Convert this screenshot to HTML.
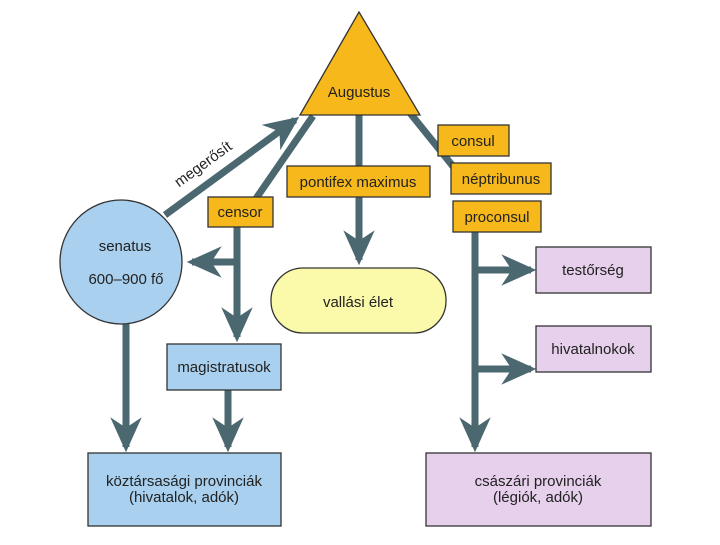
<!DOCTYPE html>
<html><head><meta charset="utf-8"><style>
html,body{margin:0;padding:0;background:#fff;}
svg text{font-family:"Liberation Sans",sans-serif;font-size:15px;fill:#222;}
</style></head><body>
<svg width="720" height="540" viewBox="0 0 720 540" xmlns="http://www.w3.org/2000/svg">
<defs>
<marker id="a" viewBox="0 0 10 10" refX="8.5" refY="5" markerWidth="5" markerHeight="5" orient="auto" markerUnits="strokeWidth">
<path d="M0,0.5 L10,5 L0,9.5 L3,5 z" fill="#4b6870"/>
</marker>
</defs>
<g stroke="#4b6870" stroke-width="7" fill="none">
<line x1="165" y1="215" x2="295" y2="120" marker-end="url(#a)"/>
<line x1="313" y1="116" x2="255" y2="200"/>
<line x1="359" y1="112" x2="359" y2="260" marker-end="url(#a)"/>
<line x1="410" y1="113" x2="460" y2="175"/>
<line x1="475" y1="230" x2="475" y2="447" marker-end="url(#a)"/>
<line x1="475" y1="270" x2="531" y2="270" marker-end="url(#a)"/>
<line x1="475" y1="369" x2="531" y2="369" marker-end="url(#a)"/>
<line x1="237" y1="225" x2="237" y2="337" marker-end="url(#a)"/>
<line x1="240" y1="262" x2="192" y2="262" marker-end="url(#a)"/>
<line x1="126" y1="320" x2="126" y2="447" marker-end="url(#a)"/>
<line x1="228" y1="390" x2="228" y2="447" marker-end="url(#a)"/>
</g>
<g stroke="#333" stroke-width="1.3">
<polygon points="359,12 300,115 420,115" fill="#f6b81b"/>
<rect x="438" y="125" width="71" height="31" fill="#f6b81b"/>
<rect x="451" y="163" width="100" height="31" fill="#f6b81b"/>
<rect x="453" y="201" width="88" height="31" fill="#f6b81b"/>
<rect x="287" y="166" width="143" height="31" fill="#f6b81b"/>
<rect x="208" y="197" width="65" height="30" fill="#f6b81b"/>
<ellipse cx="121" cy="262" rx="61" ry="62" fill="#a9d0ee"/>
<rect x="167" y="344" width="114" height="46" fill="#a9d0ee"/>
<rect x="88" y="453" width="193" height="73" fill="#a9d0ee"/>
<rect x="271" y="268" width="175" height="65" rx="32" fill="#fafaaa"/>
<rect x="536" y="247" width="115" height="46" fill="#e6d0ec"/>
<rect x="536" y="326" width="115" height="46" fill="#e6d0ec"/>
<rect x="426" y="453" width="225" height="73" fill="#e6d0ec"/>
</g>
<g text-anchor="middle">
<text x="359" y="97">Augustus</text>
<text x="473" y="146">consul</text>
<text x="501" y="184">néptribunus</text>
<text x="497" y="222">proconsul</text>
<text x="358" y="187">pontifex maximus</text>
<text x="240" y="217">censor</text>
<text x="125" y="251">senatus</text>
<text x="126" y="284">600–900 fő</text>
<text x="224" y="372">magistratusok</text>
<text x="358" y="307">vallási élet</text>
<text x="593" y="275">testőrség</text>
<text x="593" y="354">hivatalnokok</text>
<text x="184" y="486">köztársasági provinciák</text>
<text x="184" y="502">(hivatalok, adók)</text>
<text x="538" y="486">császári provinciák</text>
<text x="538" y="502">(légiók, adók)</text>
<text x="0" y="0" transform="translate(206,168) rotate(-36)">megerősít</text>
</g>
</svg>
</body></html>
